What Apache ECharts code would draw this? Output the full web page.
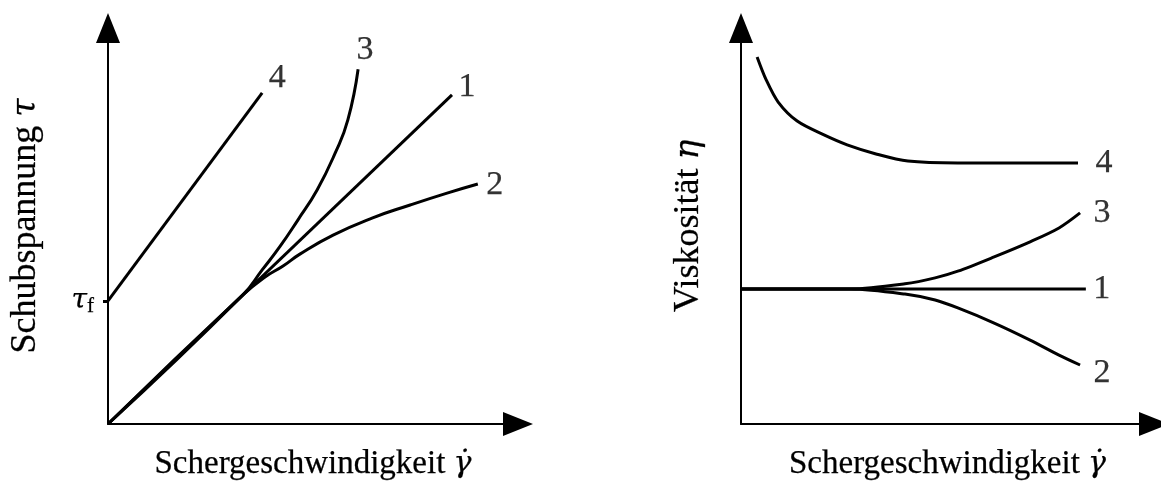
<!DOCTYPE html>
<html>
<head>
<meta charset="utf-8">
<script src="https://cdn.jsdelivr.net/npm/echarts@6/dist/echarts.min.js"></script>
<style>
  html, body { margin: 0; padding: 0; background: #ffffff; }
  #chart { width: 1161px; height: 488px; }
</style>
</head>
<body>
<div id="chart"></div>
<script>
// Flow curves (shear stress vs. shear rate) and viscosity curves, schematic units 0..10.
// 1 = Newtonian, 2 = shear-thinning, 3 = shear-thickening, 4 = Bingham plastic.
const curveNames = ['1', '2', '3', '4'];

const yieldStress = 3.11;

const stressNewton = [[0, 0], [8.39, 8.31]];
const stressThinning = [[0, 0], [3.29, 3.26], [3.83, 3.71], [4.27, 3.99], [4.68, 4.29], [5.49, 4.77],
  [6.44, 5.20], [7.37, 5.53], [8.27, 5.83], [9.02, 6.06]];
const stressThickening = [[0, 0], [3.29, 3.26], [3.76, 3.89], [4.20, 4.49], [4.63, 5.15], [5.10, 5.91],
  [5.54, 6.84], [5.85, 7.68], [6.10, 8.96]];
const stressBingham = [[0, yieldStress], [3.76, 8.36]];

const viscNewton = [[0, 3.41], [8.35, 3.41]];
const viscThinning = [[0, 3.41], [2.66, 3.41], [3.97, 3.28], [4.70, 3.13], [5.25, 2.93], [6.13, 2.55],
  [7.00, 2.12], [7.70, 1.74], [8.21, 1.49]];
const viscThickening = [[0, 3.41], [2.66, 3.41], [3.97, 3.54], [4.70, 3.69], [5.25, 3.86], [6.13, 4.22],
  [7.00, 4.60], [7.70, 4.95], [8.21, 5.33]];
const viscBingham = [[0.39, 9.27], [0.61, 8.69], [0.90, 8.13], [1.36, 7.65], [2.01, 7.30], [2.57, 7.05],
  [3.27, 6.82], [4.04, 6.64], [5.25, 6.59], [8.16, 6.59]];

const stressCurves = [stressNewton, stressThinning, stressThickening, stressBingham];
const viscCurves = [viscNewton, viscThinning, viscThickening, viscBingham];

// Offsets of the curve numbers from each curve's end point, in pixels.
const stressLabelOffset = [[15, -8], [17, 1], [7, -19], [15, -15]];
const viscLabelOffset = [[16, 0], [22, 8], [22, 0], [26, 0]];

const SERIF = 'Liberation Serif';
const MATH = 'DejaVu Serif';
const FS = 33;
const INK = '#000000';
// hairline outline so the thin serif glyphs read solid black
const ink = { color: INK, textBorderColor: INK, textBorderWidth: 0.25 };

function mathRich(size) {
  return { m: Object.assign({ fontFamily: MATH, fontSize: size, fontStyle: 'italic' }, ink) };
}

function axisFrame(gridIndex, name, nameSize, extra) {
  return Object.assign({
    gridIndex: gridIndex,
    type: 'value',
    min: 0,
    max: 10,
    name: name,
    nameLocation: 'middle',
    nameTextStyle: Object.assign({
      fontFamily: SERIF, fontSize: nameSize,
      rich: mathRich(nameSize - 3)
    }, ink),
    axisLine: {
      show: true,
      onZero: false,
      symbol: ['none', 'triangle'],
      symbolSize: [24, 30],
      lineStyle: { color: INK, width: 2 }
    },
    axisTick: { show: false },
    axisLabel: { show: false },
    splitLine: { show: false }
  }, extra || {});
}

function curveSeries(data, axisIdx, smooth) {
  return {
    type: 'line',
    xAxisIndex: axisIdx,
    yAxisIndex: axisIdx,
    data: data,
    showSymbol: false,
    symbol: 'none',
    smooth: smooth,
    lineStyle: { color: INK, width: 3, cap: 'butt' },
    silent: true,
    z: 3
  };
}

function numberSeries(curves, offsets, axisIdx) {
  return {
    type: 'scatter',
    xAxisIndex: axisIdx,
    yAxisIndex: axisIdx,
    symbolSize: 1,
    itemStyle: { color: 'rgba(0,0,0,0)' },
    silent: true,
    data: curves.map((c, i) => ({
      value: c[c.length - 1],
      label: Object.assign({
        show: true,
        position: 'inside',
        formatter: curveNames[i],
        offset: offsets[i],
        fontFamily: SERIF,
        fontSize: 34
      }, ink)
    }))
  };
}

const series = [];
stressCurves.forEach((c, i) => series.push(curveSeries(c, 0, i === 1 || i === 2 ? 0.5 : false)));
viscCurves.forEach((c, i) => series.push(curveSeries(c, 1, i === 0 ? false : 0.3)));
series.push(numberSeries(stressCurves, stressLabelOffset, 0));
series.push(numberSeries(viscCurves, viscLabelOffset, 1));

const option = {
  backgroundColor: '#ffffff',
  animation: false,
  textStyle: { fontFamily: SERIF, color: INK },
  grid: [
    { left: 108, top: 28, width: 410, height: 396 },
    { left: 741, top: 28, width: 413, height: 396 }
  ],
  xAxis: [
    axisFrame(0, 'Schergeschwindigkeit {m|γ̇}', FS, { nameGap: 24 }),
    axisFrame(1, 'Schergeschwindigkeit {m|γ̇}', FS, { nameGap: 24 })
  ],
  yAxis: [
    axisFrame(0, 'Schubspannung {m|τ}', 36, {
      nameGap: 64,
      axisTick: {
        show: true,
        customValues: [yieldStress],
        length: 5,
        lineStyle: { color: INK, width: 3 }
      },
      axisLabel: {
        show: true,
        customValues: [yieldStress],
        margin: 14,
        formatter: () => '{t|τ}{s|f}',
        rich: {
          t: Object.assign({ fontFamily: MATH, fontSize: 28, fontStyle: 'italic' }, ink),
          s: Object.assign({ fontFamily: SERIF, fontSize: 21, padding: [12, 0, 0, 0] }, ink)
        }
      }
    }),
    axisFrame(1, 'Viskosität {m|η}', 36, { nameGap: 34 })
  ],
  series: series
};

const chart = echarts.init(document.getElementById('chart'), null, { renderer: 'canvas' });
chart.setOption(option);
</script>
</body>
</html>
